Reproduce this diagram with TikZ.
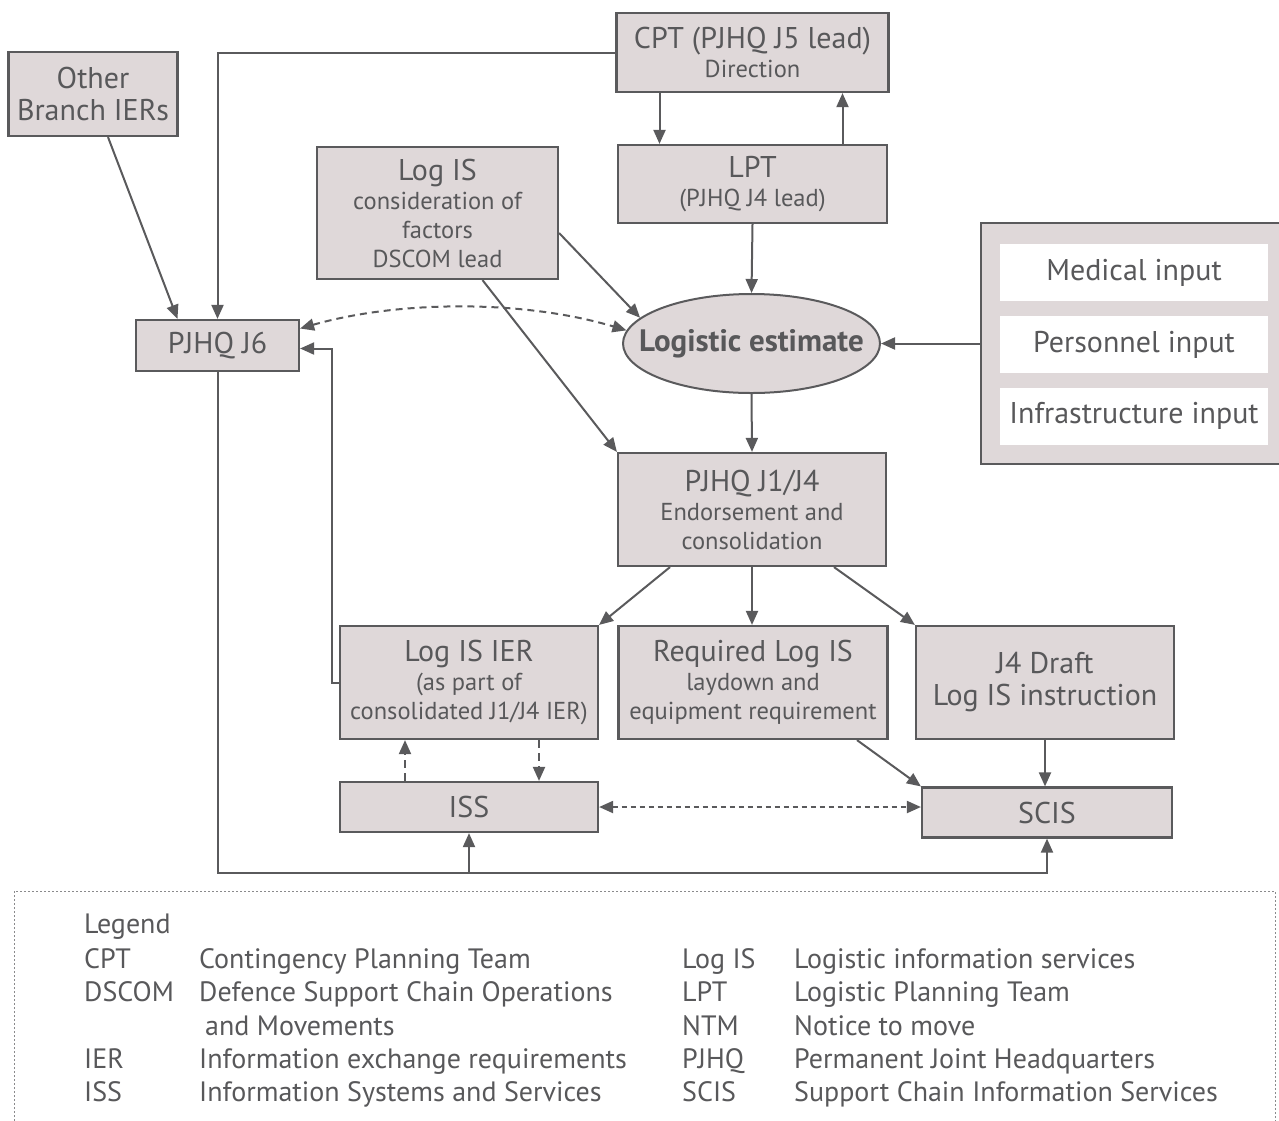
\documentclass[tikz,border=0pt]{standalone}
\usepackage{fontspec}
\setmainfont{PT Sans}
\usetikzlibrary{arrows.meta,shapes.geometric,calc}
\definecolor{bf}{HTML}{DFD8D9}
\definecolor{lc}{HTML}{5A5A5C}
\definecolor{tc}{HTML}{58585A}
\definecolor{lg}{HTML}{8A8A8C}
\newcommand{\fta}{\fontsize{30}{32}\selectfont}
\newcommand{\ftb}{\fontsize{24.5}{29}\selectfont}
\newcommand{\ftl}{\fontsize{28}{30}\selectfont}
\tikzset{
  box/.style={draw=lc, fill=bf, line width=2.2pt, inner sep=0pt, align=center, text=tc},
  wbox/.style={fill=white, inner sep=0pt, text=tc, font=\fta, minimum width=268pt, minimum height=57pt},
  arr/.style={draw=lc, line width=2pt, -{Triangle[length=14pt,width=12pt]}},
  darr/.style={draw=lc, line width=2pt, {Triangle[length=14pt,width=12pt]}-{Triangle[length=14pt,width=12pt]}},
  legt/.style={anchor=base west, inner sep=0pt, text=tc, font=\ftl}
}
\begin{document}
\begin{tikzpicture}[x=1pt,y=-1pt]
\useasboundingbox (0,0) rectangle (1279,1120);
% nodes
\node[box, minimum width=272pt, minimum height=79pt, font=\ftb] (cpt) at (752.5,52.5) {{\fta CPT (PJHQ J5 lead)}\\Direction};
\node[box, minimum width=269pt, minimum height=78pt, font=\ftb] (lpt) at (752.5,184) {{\fta LPT}\\(PJHQ J4 lead)};
\node[box, minimum width=169pt, minimum height=84pt, font=\fta] (other) at (93,94) {Other\\Branch IERs};
\node[box, minimum width=241pt, minimum height=132pt, font=\ftb] (logis) at (437.5,213) {{\fta Log IS}\\consideration of\\factors\\DSCOM lead};
\node[box, minimum width=163pt, minimum height=51pt, font=\fta] (j6) at (217.5,345.5) {PJHQ J6};
\node[box, ellipse, line width=2pt, minimum width=257pt, minimum height=99pt, font=\fontsize{31}{32}\selectfont\bfseries] (est) at (751.5,343.5) {\makebox[0pt][c]{Logistic estimate}};
\node[box, minimum width=304pt, minimum height=241pt] (inputs) at (1133,343.5) {};
\node[wbox] (med) at (1134,272.5) {Medical input};
\node[wbox] (pers) at (1134,344.5) {Personnel input};
\node[wbox] (infra) at (1134,416) {Infrastructure input};
\node[box, minimum width=268pt, minimum height=113pt, font=\ftb] (j14) at (752,509.5) {{\fta PJHQ J1/J4}\\Endorsement and\\consolidation};
\node[box, minimum width=258pt, minimum height=113pt, font=\ftb] (ier) at (469,682.5) {{\fta Log IS IER}\\(as part of\\consolidated J1/J4 IER)};
\node[box, minimum width=269pt, minimum height=113pt, font=\ftb] (req) at (753,682.5) {{\fta Required Log IS}\\laydown and\\equipment requirement};
\node[box, minimum width=258pt, minimum height=113pt, font=\fta] (draft) at (1045,682.5) {J4 Draft\\Log IS instruction};
\node[box, minimum width=258pt, minimum height=50pt, font=\fta] (iss) at (469,807) {ISS};
\node[box, minimum width=250pt, minimum height=50pt, font=\fta] (scis) at (1047,812.5) {SCIS};
\coordinate (bus) at (0,873);
% connectors
\draw[arr] (cpt.west) -| (j6.north);
\draw[arr] ([xshift=-93pt]cpt.south) -- ([xshift=-93pt]lpt.north);
\draw[arr] ([xshift=90pt]lpt.north) -- ([xshift=90pt]cpt.south);
\draw[arr] ([xshift=15pt]other.south) -- ([xshift=-40pt]j6.north);
\draw[arr] ([yshift=-20pt]logis.east) -- (est.167);
\draw[arr] ([xshift=45pt]logis.south) -- (j14.north west);
\draw[arr] (lpt.south) -- (est.north);
\draw[arr] (inputs.west) -- (est.east);
\draw[darr, dash pattern=on 7pt off 5pt] ([yshift=17pt]j6.east) .. controls +(98,-28) and +(-104,-31) .. (est.174);
\draw[arr] (est.south) -- (j14.north);
\draw[arr] ([xshift=-82pt]j14.south) -- (ier.north east);
\draw[arr] (j14.south) -- (j14.south |- req.north);
\draw[arr] ([xshift=82pt]j14.south) -- (draft.north west);
\draw[arr] (ier.west) -- ++(-7,0) |- ([yshift=-3pt]j6.east);
\draw[arr, dash pattern=on 8pt off 5pt] ([xshift=-64pt]iss.north) -- ([xshift=-64pt]ier.south);
\draw[arr, dash pattern=on 8pt off 5pt] ([xshift=70pt]ier.south) -- ([xshift=70pt]iss.north);
\draw[darr, dash pattern=on 5pt off 4pt] (iss.east) -- (iss.east -| scis.west);
\draw[arr] ([xshift=104pt]req.south) -- (scis.north west);
\draw[arr] (draft.south) -- (draft.south |- scis.north);
\draw[arr] (j6.south) |- (scis.south |- bus) -- (scis.south);
\draw[arr] (iss.south |- bus) -- (iss.south);
% legend
\draw[lg, line width=1pt, dash pattern=on 2pt off 2pt] (14,1125) -- (14,891) -- (1275,891) -- (1275,1125);
\node[legt] (lg0) at (84,933) {Legend};
\node[legt] (la1) at (84,968) {CPT};
\node[legt] (ld1) at (199,968) {Contingency Planning Team};
\node[legt] (la2) at (84,1001) {DSCOM};
\node[legt] (ld2) at (199,1001) {Defence Support Chain Operations};
\node[legt] (ld2b) at (205,1035) {and Movements};
\node[legt] (la3) at (84,1068) {IER};
\node[legt] (ld3) at (199,1068) {Information exchange requirements};
\node[legt] (la4) at (84,1101) {ISS};
\node[legt] (ld4) at (199,1101) {Information Systems and Services};
\node[legt] (lb1) at (682,968) {Log IS};
\node[legt] (le1) at (794,968) {Logistic information services};
\node[legt] (lb2) at (682,1001) {LPT};
\node[legt] (le2) at (794,1001) {Logistic Planning Team};
\node[legt] (lb3) at (682,1035) {NTM};
\node[legt] (le3) at (794,1035) {Notice to move};
\node[legt] (lb4) at (682,1068) {PJHQ};
\node[legt] (le4) at (794,1068) {Permanent Joint Headquarters};
\node[legt] (lb5) at (682,1101) {SCIS};
\node[legt] (le5) at (794,1101) {Support Chain Information Services};
\end{tikzpicture}
\end{document}
